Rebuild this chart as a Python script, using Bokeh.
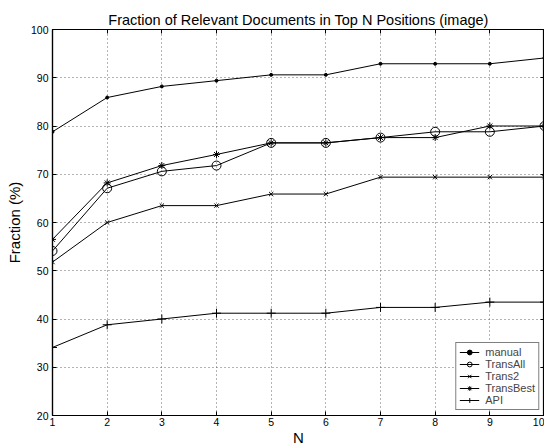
from bokeh.plotting import figure
from bokeh.models import LinearAxis, Legend, LegendItem, FixedTicker
from bokeh.embed import file_html
from bokeh.resources import INLINE

N = [1, 2, 3, 4, 5, 6, 7, 8, 9, 10]
manual = [78.8, 85.9, 88.2, 89.4, 90.6, 90.6, 92.9, 92.9, 92.9, 94.1]
trans_all = [54.1, 67.1, 70.6, 71.8, 76.5, 76.5, 77.6, 78.8, 78.8, 80.0]
trans2 = [51.8, 60.0, 63.5, 63.5, 65.9, 65.9, 69.4, 69.4, 69.4, 69.4]
trans_best = [56.5, 68.2, 71.8, 74.1, 76.5, 76.5, 77.6, 77.6, 80.0, 80.0]
api = [34.1, 38.8, 40.0, 41.2, 41.2, 41.2, 42.4, 42.4, 43.5, 43.5]
y_ticks = [20, 30, 40, 50, 60, 70, 80, 90, 100]

FONT = "Liberation Sans"

p = figure(width=544, height=448, output_backend="svg", toolbar_location=None,
           x_range=(1, 10), y_range=(20, 100),
           min_border_left=52, min_border_top=29, min_border_bottom=32, min_border_right=0,
           title="Fraction of Relevant Documents in Top N Positions (image)")
p.title.text_font = FONT
p.title.text_font_size = "14.5px"
p.title.text_font_style = "normal"
p.title.text_color = "black"
p.title.align = "center"
p.title.offset = 0
p.title.standoff = 4

p.outline_line_color = "black"
p.outline_line_width = 1.2

for ax in (p.xaxis[0], p.yaxis[0]):
    ax.major_label_text_font = FONT
    ax.major_label_text_font_size = "10.5px"
    ax.major_label_text_color = "black"
    ax.axis_label_text_font = FONT
    ax.axis_label_text_font_size = "15px"
    ax.axis_label_text_font_style = "normal"
    ax.axis_label_text_color = "black"
    ax.major_tick_in = 4
    ax.major_tick_out = 0
    ax.major_tick_line_color = "black"
    ax.minor_tick_line_color = None
    ax.axis_line_color = "black"
    ax.axis_line_width = 1.2

p.xaxis.ticker = FixedTicker(ticks=N)
p.yaxis.ticker = FixedTicker(ticks=y_ticks)
p.xaxis.axis_label = "N"
p.xaxis.axis_label_standoff = 0
p.xaxis.major_label_standoff = 2
p.yaxis.axis_label = "Fraction (%)"
p.yaxis.axis_label_standoff = 5
p.yaxis.major_label_standoff = 4

for loc, tk in (("right", y_ticks), ("above", N)):
    a = LinearAxis(ticker=FixedTicker(ticks=tk),
                   major_label_overrides={t: "" for t in tk},
                   major_tick_in=4, major_tick_out=0, minor_tick_line_color=None,
                   major_tick_line_color="black",
                   axis_line_color="black", major_label_standoff=0)
    p.add_layout(a, loc)

p.xgrid.grid_line_color = "#444444"
p.ygrid.grid_line_color = "#444444"
p.xgrid.grid_line_dash = "1 3"
p.ygrid.grid_line_dash = "1 3"
p.xgrid.grid_line_alpha = 0.8
p.ygrid.grid_line_alpha = 0.8

series = [
    ("manual", manual, "circle", 3),
    ("TransAll", trans_all, "circle", 9),
    ("Trans2", trans2, "x", 6),
    ("TransBest", trans_best, "asterisk", 7),
    ("API", api, "cross", 9),
]

items = []
for name, ys, marker, size in series:
    l = p.line(N, ys, line_color="black", line_width=1)
    fill = "black" if name == "manual" else None
    s = p.scatter(N, ys, marker=marker, size=size, fill_color=fill,
                  line_color="black", line_width=1)
    items.append(LegendItem(label=name, renderers=[l, s]))

legend = Legend(items=items, location="bottom_right", orientation="vertical",
                label_text_font=FONT, label_text_font_size="11px",
                glyph_height=12, glyph_width=20, label_height=12,
                spacing=0, padding=3, margin=5,
                border_line_color="black", border_line_width=1.2,
                label_standoff=6, background_fill_alpha=1)
p.add_layout(legend, "center")

open("out.html", "w").write(file_html(p, INLINE))
